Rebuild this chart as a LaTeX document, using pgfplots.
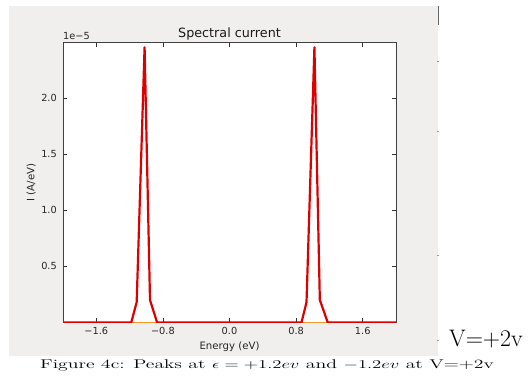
\documentclass[border=0pt]{standalone}
\usepackage{pgfplots}
\pgfplotsset{compat=1.18}
\usepackage{graphicx}
\usepackage{fontspec}
\newfontfamily\dejavu{DejaVu Sans}
\definecolor{figbg}{RGB}{240,239,237}
\definecolor{lred}{RGB}{220,0,0}
\definecolor{lorange}{RGB}{235,150,40}
\begin{document}
\begin{tikzpicture}[x=1bp,y=1bp]
\useasboundingbox (0,0) rectangle (530,381);
\fill[figbg] (9,25) rectangle (438,375);
\draw[black!60, line width=1bp] (438,375) -- (438,356);
\draw[black!40, line width=0.8bp] (437,320) -- (439,320);
\draw[black!40, line width=0.8bp] (437,250) -- (439,250);
\draw[black!40, line width=0.8bp] (437,126) -- (439,126);
\draw[black!40, line width=0.8bp] (437,41) -- (439,41);
\begin{axis}[
  at={(63bp,58.6bp)}, anchor=south west,
  scale only axis, width=333bp, height=279.6bp,
  xmin=-2, xmax=2, ymin=0, ymax=2.49,
  axis background/.style={fill=white},
  xtick={-1.6,-0.8,0,0.8,1.6},
  xticklabels={−1.6,−0.8,0.0,0.8,1.6},
  ytick={0.5,1,1.5,2},
  yticklabels={0.5,1.0,1.5,2.0},
  tick align=inside, major tick length=4bp,
  tick style={black!80, line width=0.6bp},
  axis line style={black!75, line width=0.8bp},
  ticklabel style={font=\dejavu\fontsize{9.8}{10}\selectfont, text=black!85},
  xticklabel style={inner sep=0pt, yshift=-4.5bp},
  yticklabel style={inner sep=0pt, xshift=-6bp},
  title={Spectral current},
  every axis title/.style={at={(axis description cs:0.5,1)}, anchor=base, yshift=5bp,
    font=\dejavu\fontsize{12.8}{13}\selectfont, text=black!90},
  xlabel={Energy (eV)},
  xlabel style={at={(axis description cs:0.5,0)}, anchor=base, yshift=-27bp,
    font=\dejavu\fontsize{10.2}{11}\selectfont, text=black!85},
  ylabel={I (A/eV)},
  ylabel style={at={([xshift=-28.7bp]axis description cs:0,0.5)}, anchor=base,
    font=\dejavu\fontsize{10.2}{11}\selectfont, text=black!85},
]
\addplot[lorange, line width=1bp] coordinates {(-2,0) (2,0)};
\addplot[lred, line width=2.2bp, line join=round] coordinates {
  (-2,0) (-1.18,0) (-1.115,0.18) (-1.02,2.45) (-0.955,0.20) (-0.87,0)
  (0.865,0) (0.925,0.18) (1.02,2.45) (1.085,0.20) (1.18,0) (2,0)
};
\end{axis}
\node[anchor=base west, inner sep=0pt, font=\dejavu\fontsize{9.8}{10}\selectfont, text=black!85] at (63,341.7) {1e−5};
\node[anchor=base west, inner sep=0pt] at (449,34.3) {\fontsize{24}{24}\selectfont V=+2v};
\node[anchor=base, inner sep=0pt] at (267,12.3) {\scalebox{1.56}[1]{\fontsize{12.7}{14}\selectfont Figure 4c: Peaks at $\epsilon = +1.2ev$ and $-1.2ev$ at V=+2v}};
\end{tikzpicture}
\end{document}
